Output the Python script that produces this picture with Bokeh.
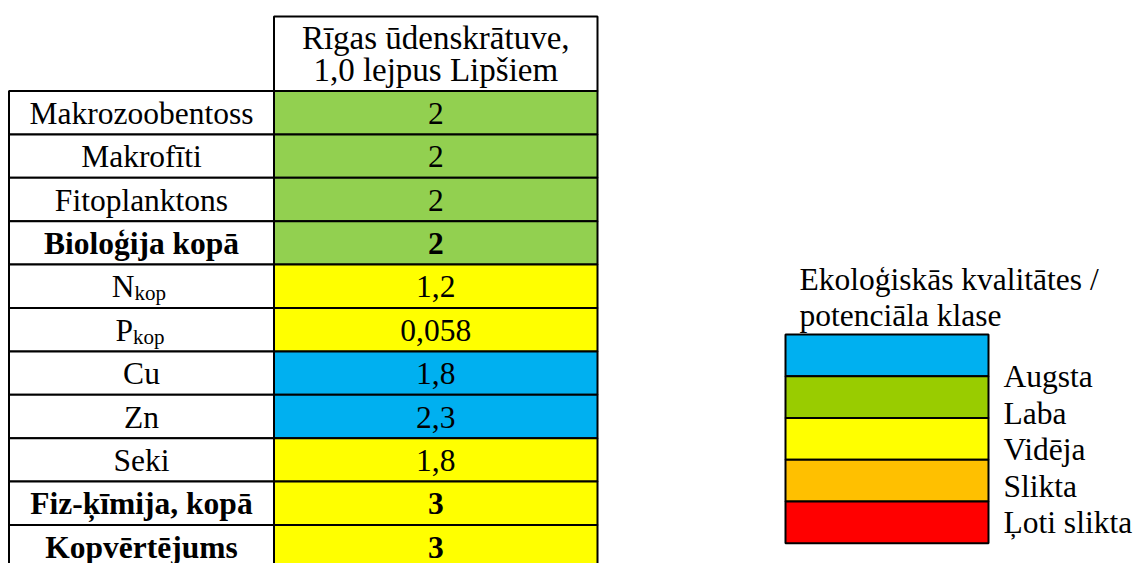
from bokeh.plotting import figure
from bokeh.models import ColumnDataSource, Range1d
from bokeh.core.properties import value
from bokeh.embed import file_html
from bokeh.resources import INLINE

# ---------------- data ----------------
header_lines = ["Rīgas ūdenskrātuve,", "1,0 lejpus Lipšiem"]
row_labels = ["Makrozoobentoss", "Makrofīti", "Fitoplanktons", "Bioloģija kopā",
              "N", "P", "Cu", "Zn", "Seki", "Fiz-ķīmija, kopā", "Kopvērtējums"]
row_subscripts = ["", "", "", "", "kop", "kop", "", "", "", "", ""]
row_values = ["2", "2", "2", "2", "1,2", "0,058", "1,8", "2,3", "1,8", "3", "3"]
row_class = [2, 2, 2, 2, 3, 3, 1, 1, 3, 3, 3]
row_bold = [False, False, False, True, False, False, False, False, False, True, True]

table_colors = {1: "#00B0F0", 2: "#92D050", 3: "#FFFF00"}

legend_title = ["Ekoloģiskās kvalitātes /", "potenciāla klase"]
legend_labels = ["Augsta", "Laba", "Vidēja", "Slikta", "Ļoti slikta"]
legend_colors = ["#00B0F0", "#99CC00", "#FFFF00", "#FFC000", "#FF0000"]

# ---------------- layout constants ----------------
FONT = value("'Liberation Serif', 'Times New Roman', serif")
PX, PX_HEAD, PX_SUB = 31.5, 33.0, 21.0
FS, FS_HEAD, FS_SUB = value(f"{PX}px"), value(f"{PX_HEAD}px"), value(f"{PX_SUB}px")
MID = 0.3375  # baseline offset below the "middle" anchor, in em

def mid(baseline, px):
    return baseline - MID * px

TX0, TX1, TX2 = 8.5, 273.5, 597.0
HEAD_TOP, ROW_TOP, ROW_H = 16.0, 90.5, 43.4
BASE_OFF = 33.0
HEAD_BASE = [49.0, 80.7]
LX0, LX1, LY0, LH = 785.0, 988.0, 334.0, 41.75
LAB_X, LAB_Y0, LAB_DY = 1003.0, 387.0, 36.5
TITLE_X, TITLE_BASE = 799.0, [289.3, 325.5]

W, H = 1136, 563
p = figure(width=W, height=H, x_range=Range1d(0, W), y_range=Range1d(H, 0),
           output_backend="svg", toolbar_location=None, min_border=0)
p.axis.visible = False
p.grid.visible = False
p.outline_line_color = None
p.background_fill_color = "white"
p.border_fill_color = "white"

n = len(row_labels)
tops = [ROW_TOP + i * ROW_H for i in range(n)]
bots = [t + ROW_H for t in tops]
bases = [t + BASE_OFF for t in tops]

# header cell
p.quad(left=[TX1], right=[TX2], top=[HEAD_TOP], bottom=[ROW_TOP],
       fill_color="white", line_color="black", line_width=2)
hx = (TX1 + TX2) / 2
p.text(x=[hx, hx], y=[mid(b, PX_HEAD) for b in HEAD_BASE], text=header_lines,
       text_font=FONT, text_font_size=FS_HEAD, text_align="center",
       text_baseline="middle", text_color="black")

# label column cells
p.quad(left=[TX0] * n, right=[TX1] * n, top=tops, bottom=bots,
       fill_color="white", line_color="black", line_width=2)
# value cells
p.quad(left=[TX1] * n, right=[TX2] * n, top=tops, bottom=bots,
       fill_color=[table_colors[c] for c in row_class], line_color="black", line_width=2)

lx = (TX0 + TX1) / 2
vx = (TX1 + TX2) / 2
for bold in (False, True):
    style = "bold" if bold else "normal"
    idx = [i for i in range(n) if row_bold[i] == bold and row_subscripts[i] == ""]
    src = ColumnDataSource(dict(x=[lx] * len(idx), y=[mid(bases[i], PX) for i in idx],
                                t=[row_labels[i] for i in idx]))
    p.text(x="x", y="y", text="t", source=src, text_font=FONT, text_font_size=FS,
           text_font_style=style, text_align="center", text_baseline="middle",
           text_color="black")
    idv = [i for i in range(n) if row_bold[i] == bold]
    srcv = ColumnDataSource(dict(x=[vx] * len(idv), y=[mid(bases[i], PX) for i in idv],
                                 t=[row_values[i] for i in idv]))
    p.text(x="x", y="y", text="t", source=srcv, text_font=FONT, text_font_size=FS,
           text_font_style=style, text_align="center", text_baseline="middle",
           text_color="black")

# labels with subscripts
ids = [i for i in range(n) if row_subscripts[i] != ""]
split_x = [lx - 7 if row_labels[i] == "N" else lx - 8.5 for i in ids]
p.text(x=split_x, y=[mid(bases[i], PX) for i in ids], text=[row_labels[i] for i in ids],
       text_font=FONT, text_font_size=FS, text_align="right", text_baseline="middle",
       text_color="black")
p.text(x=split_x, y=[mid(bases[i] + 2.7, PX_SUB) for i in ids],
       text=[row_subscripts[i] for i in ids],
       text_font=FONT, text_font_size=FS_SUB, text_align="left", text_baseline="middle",
       text_color="black")

# ---------------- legend ----------------
m = len(legend_colors)
ltops = [LY0 + i * LH for i in range(m)]
p.quad(left=[LX0] * m, right=[LX1] * m, top=ltops, bottom=[t + LH for t in ltops],
       fill_color=legend_colors, line_color="black", line_width=2)
p.text(x=[TITLE_X] * 2, y=[mid(b, PX) for b in TITLE_BASE], text=legend_title,
       text_font=FONT, text_font_size=FS, text_align="left", text_baseline="middle",
       text_color="black")
p.text(x=[LAB_X] * m, y=[mid(LAB_Y0 + i * LAB_DY, PX) for i in range(m)],
       text=legend_labels,
       text_font=FONT, text_font_size=FS, text_align="left", text_baseline="middle",
       text_color="black")

open("out.html", "w").write(file_html(p, INLINE))
